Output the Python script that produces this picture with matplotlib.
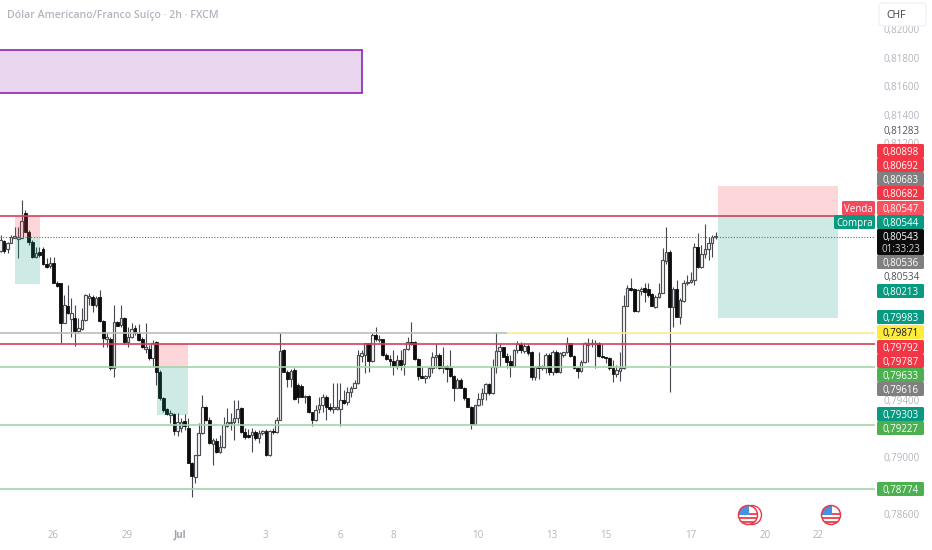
import numpy as np
import matplotlib
matplotlib.use("Agg")
import matplotlib.pyplot as plt
from matplotlib.patches import Rectangle, FancyBboxPatch, Circle
from matplotlib.transforms import Affine2D

plt.rcParams["font.family"] = ["Open Sans", "DejaVu Sans"]

# ── CANDLES (points, 1e-5 CHF) ────────────────────────────────────────────────
opens = [
    80448,80516,80458,80504,80535,80528,80535,80710,80582,80511,
    80406,80440,80458,80355,80341,80359,80224,80219,79938,80060,
    79966,79973,79887,79896,79962,80114,80121,80067,80126,79957,
    79828,79828,79623,79950,79927,79973,79810,79845,79903,79873,
    79826,79756,79756,79693,79810,79599,79412,79335,79295,79302,
    79185,79202,79250,79202,78961,78858,79014,79167,79354,79260,
    79092,79115,79038,79073,79218,79237,79248,79272,79342,79178,
    79155,79155,79178,79131,79171,79185,79014,79185,79175,79260,
    79751,79599,79545,79611,79506,79501,79424,79431,79314,79260,
    79335,79365,79424,79349,79335,79335,79340,79400,79389,79459,
    79482,79517,79709,79716,79798,79676,79856,79821,79826,79716,
    79686,79674,79639,79681,79651,79756,79810,79810,79686,79569,
    79557,79569,79623,79700,79716,79623,79639,79623,79569,79487,
    79541,79487,79412,79354,79232,79365,79407,79447,79513,79447,
    79634,79746,79770,79709,79674,79639,79751,79791,79746,79779,
    79739,79564,79639,79623,79623,79716,79599,79739,79599,79716,
    79735,79798,79709,79623,79606,79669,79786,79791,79793,79798,
    79709,79700,79693,79627,79583,79606,79623,80060,80189,80177,
    80027,80168,80184,80177,80142,80051,80121,80154,80378,80441,
    80051,80177,79985,80098,80219,80226,80243,80477,80332,80425,
    80458,80500,80547,
]
highs = [
    80558,80523,80511,80558,80617,80617,80804,80734,80593,80523,
    80476,80470,80476,80395,80406,80406,80235,80224,80137,80207,
    80114,80067,79973,80044,80144,80149,80137,80130,80172,79962,
    79880,79845,80067,79957,80067,79985,79915,79938,79927,79934,
    79845,79938,79786,79821,79817,79611,79419,79342,79330,79307,
    79307,79272,79300,79272,78968,79014,79237,79436,79360,79283,
    79131,79131,79155,79283,79342,79307,79400,79400,79354,79202,
    79195,79202,79190,79190,79190,79195,79190,79205,79283,79868,
    79758,79611,79618,79623,79517,79513,79435,79435,79318,79365,
    79424,79440,79435,79377,79517,79517,79517,79470,79489,79499,
    79541,79751,79751,79803,79803,79873,79910,79856,79831,79728,
    79716,79751,79716,79751,79756,79845,79950,79817,79693,79634,
    79576,79634,79739,79798,79728,79770,79646,79751,79576,79552,
    79552,79489,79417,79358,79365,79447,79482,79522,79517,79686,
    79875,79798,79775,79728,79716,79756,79817,79810,79798,79791,
    79746,79639,79739,79646,79728,79728,79751,79751,79739,79739,
    79845,79803,79716,79634,79681,79810,79833,79826,79821,79810,
    79794,79705,79700,79681,79646,79740,80137,80208,80254,80184,
    80177,80191,80219,80219,80149,80137,80219,80465,80612,80453,
    80191,80243,80114,80243,80278,80301,80500,80570,80488,80636,
    80547,80558,80582,
]
lows = [
    80441,80434,80430,80500,80535,80395,80535,80577,80488,80395,
    80395,80405,80348,80324,80324,80219,80190,79798,79938,80004,
    79845,79782,79868,79892,79957,80067,80020,80050,79950,79775,
    79775,79611,79564,79920,79915,79793,79775,79833,79857,79817,
    79763,79728,79681,79634,79506,79400,79319,79295,79237,79155,
    79148,79178,79190,78956,78722,78816,79012,79162,79250,79092,
    78944,79026,79026,79060,79209,79190,79120,79237,79167,79125,
    79131,79038,79120,79096,79155,79007,79007,79160,79170,79260,
    79594,79494,79489,79400,79377,79419,79377,79307,79218,79255,
    79307,79318,79260,79325,79307,79330,79218,79372,79365,79424,
    79482,79513,79669,79592,79599,79669,79817,79810,79709,79681,
    79634,79576,79615,79611,79576,79751,79786,79681,79541,79552,
    79522,79552,79587,79623,79615,79587,79529,79564,79396,79482,
    79482,79400,79349,79194,79225,79358,79365,79400,79435,79442,
    79587,79634,79700,79623,79564,79634,79728,79728,79728,79716,
    79541,79541,79545,79611,79587,79576,79576,79592,79587,79704,
    79728,79704,79615,79552,79599,79658,79669,79775,79623,79704,
    79695,79658,79611,79529,79564,79536,79616,80056,80168,80020,
    80020,80137,80091,80126,80056,80044,80114,80149,80355,79459,
    79915,79981,79934,80091,80208,80219,80208,80325,80325,80395,
    80383,80406,80528,
]
closes = [
    80523,80446,80500,80547,80551,80542,80659,80582,80511,80406,
    80434,80415,80355,80336,80359,80224,80200,79943,80067,80009,
    80009,79887,79903,79962,80137,80130,80067,80115,79957,79833,
    79845,79623,79950,79920,79973,79810,79845,79896,79868,79821,
    79770,79775,79693,79803,79599,79412,79330,79302,79307,79185,
    79248,79248,79215,78961,78863,79014,79167,79354,79260,79096,
    79120,79038,79073,79225,79248,79248,79272,79335,79178,79138,
    79138,79178,79131,79171,79185,79014,79185,79175,79260,79747,
    79599,79545,79606,79407,79424,79424,79431,79314,79260,79330,
    79365,79424,79349,79335,79349,79354,79400,79382,79459,79482,
    79517,79716,79728,79798,79676,79856,79826,79826,79716,79686,
    79674,79639,79681,79646,79756,79810,79793,79686,79569,79557,
    79569,79623,79700,79716,79623,79639,79615,79569,79487,79541,
    79487,79412,79354,79232,79365,79407,79452,79513,79447,79634,
    79746,79770,79704,79669,79639,79751,79791,79751,79779,79728,
    79564,79634,79623,79639,79716,79599,79739,79599,79728,79735,
    79798,79709,79623,79606,79669,79798,79798,79798,79798,79709,
    79700,79691,79627,79583,79611,79623,80060,80189,80172,80027,
    80172,80177,80161,80137,80060,80126,80154,80383,80441,80051,
    80177,79985,80102,80219,80231,80243,80477,80336,80425,80458,
    80500,80547,80551,
]

# ── AXIS LABELS ───────────────────────────────────────────────────────────────
date_ticks  = [15, 36, 51, 75, 96, 111, 135, 156, 171, 195, 216, 231]
date_labels = ["26", "29", "Jul", "3", "6", "8", "10", "13", "15", "17", "20", "22"]
price_ticks = [0.82000, 0.81800, 0.81600, 0.81400, 0.81200, 0.79400, 0.79000, 0.78600]

# ── DRAWINGS ──────────────────────────────────────────────────────────────────
red_lines   = [0.80692, 0.79792]
green_lines = [0.79633, 0.79227, 0.78774]
last_price  = 0.80543
level_line  = 0.79871
zone_top, zone_bottom = 0.81856, 0.81554

# bar from, bar to, stop, entry, target
pos_starts  = [4.2, 44.4, 202.8]
pos_ends    = [11.3, 53.2, 236.7]
pos_stops   = [0.80692, 0.79793, 0.80905]
pos_entries = [0.80540, 0.79623, 0.80692]
pos_targets = [0.80214, 0.79295, 0.79975]

# ── PRICE TAGS ────────────────────────────────────────────────────────────────
tag_texts  = ["0,80898", "0,80692", "0,80683", "0,80682", "0,80547", "0,80544",
              "0,80536", "0,80213", "0,79983", "0,79871", "0,79792", "0,79787",
              "0,79633", "0,79616", "0,79303", "0,79227", "0,78774"]
tag_colors = ["#f23645", "#f23645", "#808080", "#f23645", "#f7525f", "#089981",
              "#808080", "#089981", "#089981", "#ffeb3b", "#f23645", "#f23645",
              "#4caf50", "#808080", "#089981", "#4caf50", "#4caf50"]
tag_rows   = [151, 165, 179, 193, 208, 222, 262, 291, 317, 332, 347, 361, 375, 389, 414, 428, 489]

W, H = 932, 550
PX_PER_BAR = 3.54
PTS_TOP, PTS_BOTTOM = 82207, 78347

fig = plt.figure(figsize=(W / 100, H / 100), dpi=100, facecolor="white")
ax = fig.add_axes([0, 0, 1, 1])
ax.set_xlim(0, W / PX_PER_BAR)
ax.set_ylim(PTS_BOTTOM / 1e5, PTS_TOP / 1e5)
for s in ax.spines.values():
    s.set_visible(False)

# pixel transform, y down, for the interface chrome on top of the chart
px = Affine2D().scale(1, -1).translate(0, H)

# ── CANDLES ───────────────────────────────────────────────────────────────────
o = np.array(opens) / 1e5
h = np.array(highs) / 1e5
l = np.array(lows) / 1e5
c = np.array(closes) / 1e5
x = np.arange(len(o)) + 0.15
up = c >= o

ax.vlines(x, l, h, color="#45484f", linewidth=0.8, zorder=2)
ax.bar(x[up], (c - o)[up], bottom=o[up], width=0.72, facecolor="white",
       edgecolor="#4a4d54", linewidth=0.85, zorder=3)
ax.bar(x[~up], (c - o)[~up], bottom=o[~up], width=0.8, facecolor="#0d0d0d",
       edgecolor="#0d0d0d", linewidth=0.6, zorder=3)

# ── POSITION BOXES ────────────────────────────────────────────────────────────
for x0, x1, stop, entry, target in zip(pos_starts, pos_ends, pos_stops, pos_entries, pos_targets):
    ax.add_patch(Rectangle((x0, entry), x1 - x0, stop - entry, facecolor="#f23645",
                           alpha=0.2, linewidth=0, zorder=4))
    ax.add_patch(Rectangle((x0, target), x1 - x0, entry - target, facecolor="#089981",
                           alpha=0.2, linewidth=0, zorder=4))

ax.add_patch(Rectangle((-2, zone_bottom), 104.2, zone_top - zone_bottom, facecolor="#ead5ee",
                       edgecolor="#8e24aa", linewidth=1.2, zorder=1))

# ── HORIZONTAL LEVELS ─────────────────────────────────────────────────────────
line_end = 875 / PX_PER_BAR
for y in red_lines:
    ax.hlines(y, 0, line_end, color="#d6405a", linewidth=1.2, zorder=5)
for y in green_lines:
    ax.hlines(y, 0, line_end, color="#a3d5a5", linewidth=1.2, zorder=5)
ax.hlines(level_line, 0, 143.2, color="#bdbdb5", linewidth=1.2, zorder=5)
ax.hlines(level_line, 143.2, line_end, color="#ffeb8a", linewidth=1.2, zorder=5)
ax.hlines(last_price, 0, line_end, color="#707070", linewidth=0.8,
          linestyle=(0, (1, 1.5)), zorder=5)

# ── TICKS ─────────────────────────────────────────────────────────────────────
ax.set_xticks(date_ticks, date_labels)
ax.set_yticks(price_ticks, [f"{p:.5f}".replace(".", ",") for p in price_ticks])
ax.yaxis.tick_right()
ax.tick_params(axis="y", direction="in", length=0, pad=-34.6, labelsize=7, labelcolor="#b2b5be")
ax.tick_params(axis="x", direction="in", length=0, pad=-14.5, labelsize=7, labelcolor="#b2b5be")
for t in ax.get_xticklabels():
    if t.get_text() == "Jul":
        t.set_fontweight("bold")
        t.set_color("#a0a3ab")

# ── PRICE SCALE TAGS ──────────────────────────────────────────────────────────
def tag(x0, x1, yc, text, color, tcolor="white", hgt=14):
    fig.add_artist(FancyBboxPatch((x0, yc - hgt / 2), x1 - x0, hgt, boxstyle="round,pad=0,rounding_size=1.5",
                                  facecolor=color, edgecolor="none", transform=px))
    fig.text((x0 + x1) / 2, yc, text, transform=px, color=tcolor, fontsize=7,
             ha="center", va="center_baseline")

for text, color, row in zip(tag_texts, tag_colors, tag_rows):
    tag(877, 924, row, text, color, "#131722" if color == "#ffeb3b" else "white")

tag(842, 875, 208, "Venda", "#f2495c")
tag(834, 875, 222, "Compra", "#089981")

# last price with countdown
fig.add_artist(FancyBboxPatch((877, 229), 47, 26, boxstyle="round,pad=0,rounding_size=1.5",
                              facecolor="#0c0c0c", edgecolor="none", transform=px))
fig.text(900.5, 236, "0,80543", transform=px, color="white", fontsize=7, ha="center", va="center_baseline")
fig.text(900.5, 248, "01:33:23", transform=px, color="#d0d0d0", fontsize=7, ha="center", va="center_baseline")

fig.text(884, 130, "0,81283", transform=px, color="#50535e", fontsize=7, va="center_baseline")
fig.text(884, 276, "0,80534", transform=px, color="#50535e", fontsize=7, va="center_baseline")

# ── HEADER ────────────────────────────────────────────────────────────────────
fig.text(7, 14, "Dólar Americano/Franco Suíço · 2h · FXCM", transform=px, color="#b2b5be",
         fontsize=7.6, fontweight="semibold", va="center_baseline")
fig.add_artist(FancyBboxPatch((879, 3), 47, 23, boxstyle="round,pad=0,rounding_size=3",
                              facecolor="white", edgecolor="#eceef2", linewidth=0.8, transform=px))
fig.text(896, 14, "CHF", transform=px, color="#3a3d45", fontsize=7.5, ha="center", va="center_baseline")

# ── EVENT FLAGS ───────────────────────────────────────────────────────────────
def flag(cx, cy, r=9.5):
    disc = Circle((cx, cy), r, facecolor="white", edgecolor="none", transform=px)
    fig.add_artist(disc)
    for dy in (-1, 3, 7):
        bar = Rectangle((cx - r, cy + dy - 1), 2 * r, 2, facecolor="#f0505c", edgecolor="none", transform=px)
        bar.set_clip_path(disc)
        fig.add_artist(bar)
    blue = Rectangle((cx - r, cy - r), r + 1, r, facecolor="#4a90e2", edgecolor="none", transform=px)
    blue.set_clip_path(disc)
    fig.add_artist(blue)
    fig.add_artist(Circle((cx, cy), r, facecolor="none", edgecolor="#e8394a", linewidth=1.1, transform=px))

fig.add_artist(Circle((752, 515), 9.5, facecolor="white", edgecolor="#e8394a", linewidth=1.0, transform=px))
flag(748, 515)
flag(831, 515)

fig.savefig("out.png", dpi=100)
